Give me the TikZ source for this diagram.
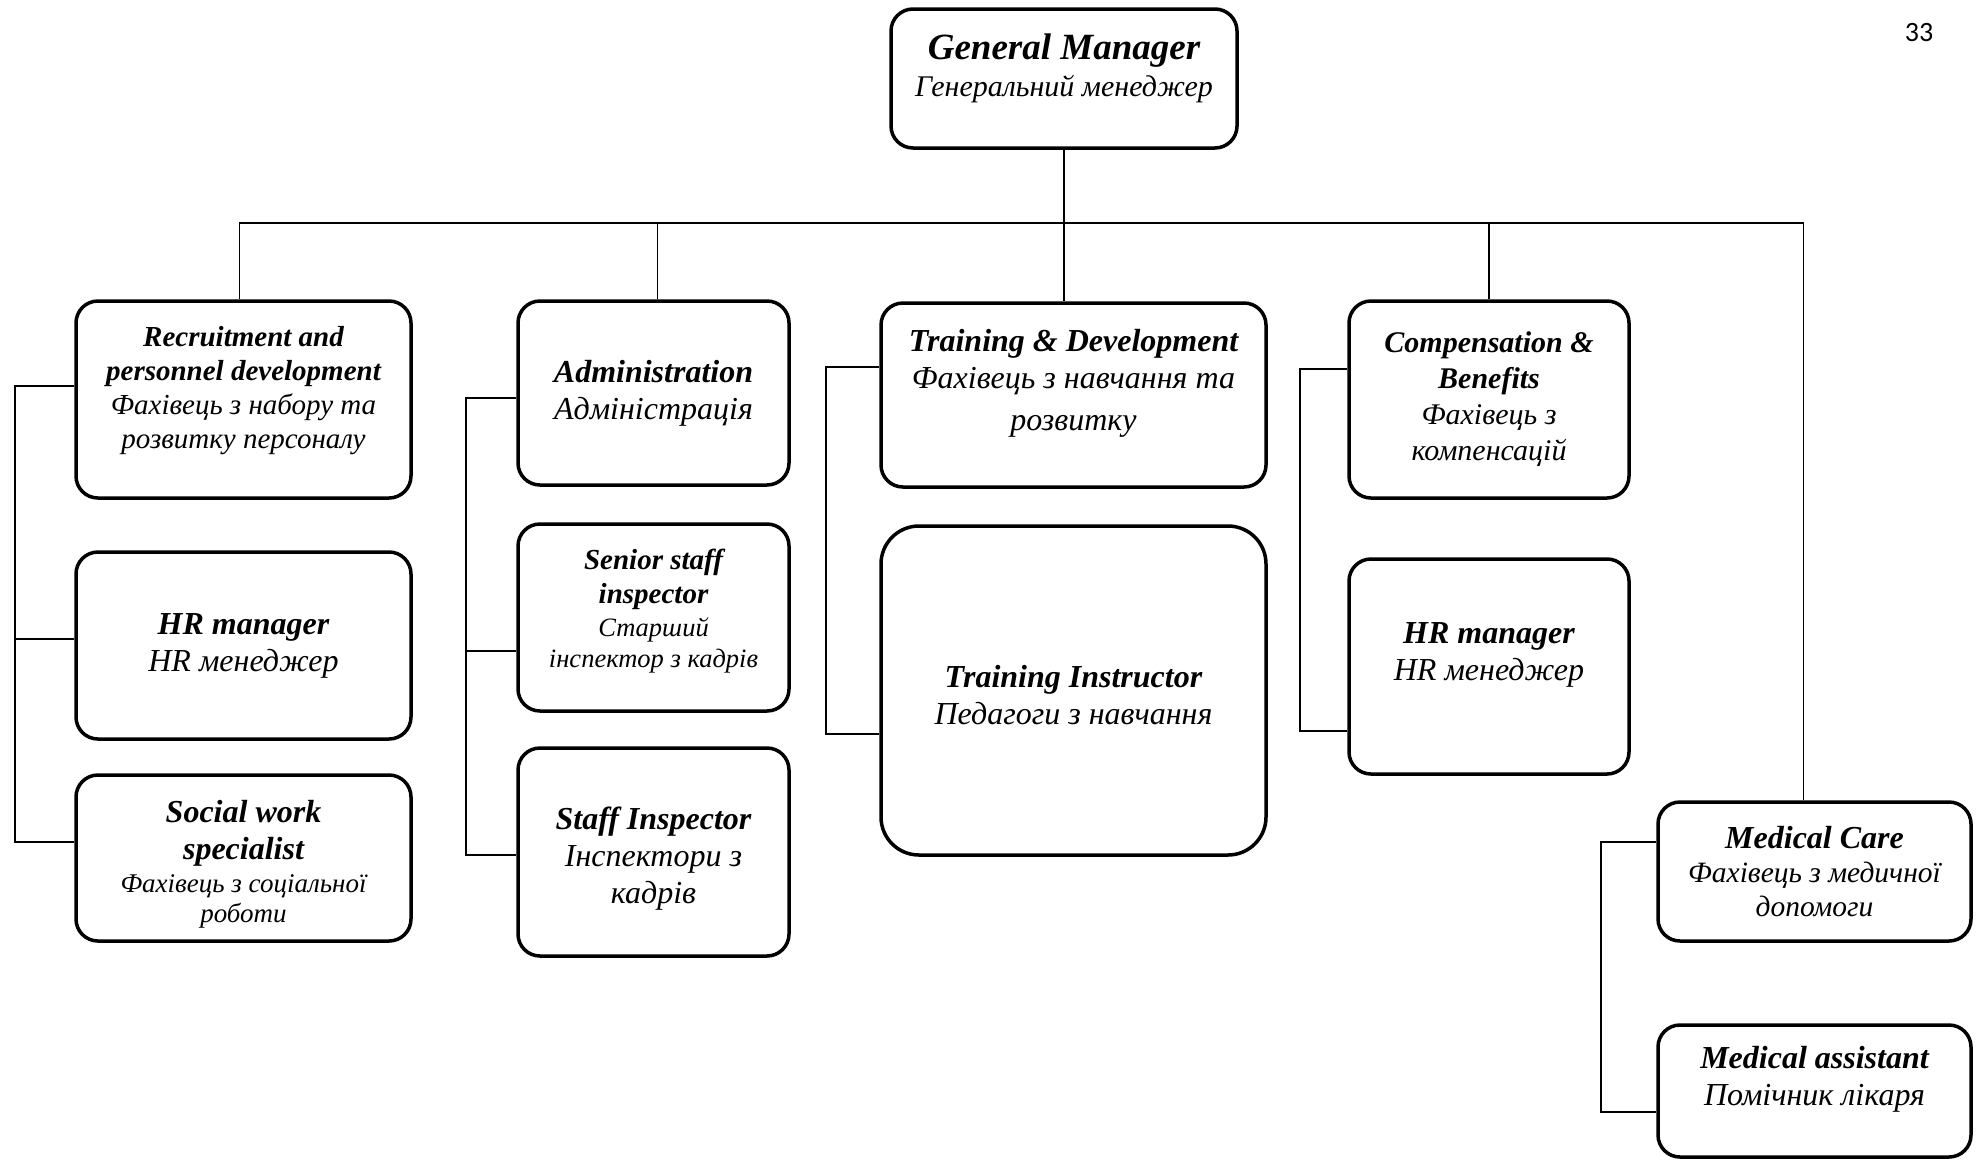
\documentclass[tikz,border=0pt]{standalone}
\usepackage{fontspec}
\setmainfont{Liberation Serif}
\newfontfamily\pgfont{Carlito}
\usetikzlibrary{calc}
\newcommand{\liftup}[1]{\rule[-#1]{0pt}{0pt}}
\newcommand{\dropdown}[1]{\rule{0pt}{#1}}

\begin{document}
\begin{tikzpicture}[x=1pt, y=-1pt,
  box/.style={draw, line width=3.5pt, rounded corners=22pt, align=center, inner sep=2pt,
    font=\fontsize{32}{37}\selectfont\itshape},
  sz/.style 2 args={minimum width=#1pt, minimum height=#2pt},
  link/.style={line width=1.7pt}]
\useasboundingbox (0,0) rectangle (1977,1160);

\node (gm) [box, sz={346}{139}, font=\fontsize{37}{37}\selectfont\itshape] at (1064,78.5) {\textbf{General Manager}\\{\fontsize{30}{30}\selectfont Генеральний менеджер}\liftup{26pt}};

\node (rec) [box, sz={335}{197}, font=\fontsize{29}{34}\selectfont\itshape] at (243.5,399.5) {\textbf{Recruitment and}\\\textbf{personnel development}\\Фахівець з набору та\\розвитку персоналу\liftup{24pt}};
\node (hr1) [box, sz={335}{187}] at (243.5,645.5) {\textbf{HR manager}\\HR менеджер};
\node (soc) [box, sz={335}{166}] at (243.5,858) {\dropdown{34pt}\textbf{Social work}\\\textbf{specialist}\\[-4pt]{\fontsize{27}{29}\selectfont Фахівець з соціальної}\\[-7pt]{\fontsize{27}{29}\selectfont роботи}};

\node (adm) [box, sz={271}{184}] at (653.5,393) {\textbf{Administration}\\Адміністрація};
\node (sen) [box, sz={271}{187}, font=\fontsize{29}{34}\selectfont\itshape] at (653.5,617.5) {\textbf{Senior staff}\\\textbf{inspector}\\[-1pt]{\fontsize{26.5}{30}\selectfont Старший}\\[-2.5pt]{\fontsize{26.5}{30}\selectfont інспектор з кадрів}\liftup{18pt}};
\node (sti) [box, sz={271}{208}] at (653.5,852) {\dropdown{36pt}\textbf{Staff Inspector}\\Інспектори з\\кадрів};

\node (td) [box, sz={385}{184}] at (1073.5,395) {\textbf{Training \& Development}\\Фахівець з навчання та\\[5pt]розвитку\liftup{30pt}};
\node (ti) [box, sz={385}{329}, rounded corners=38pt] at (1073.5,690.5) {\dropdown{32pt}\textbf{Training Instructor}\\Педагоги з навчання};

\node (comp) [box, sz={280}{197}, font=\fontsize{30}{36}\selectfont\itshape] at (1489,399.5) {\textbf{Compensation \&}\\\textbf{Benefits}\\Фахівець з\\компенсацій};
\node (hr2) [box, sz={280}{215}] at (1489,666.5) {\textbf{HR manager}\\HR менеджер\liftup{30pt}};

\node (mc) [box, sz={313}{139}] at (1814.5,871.5) {\textbf{Medical Care}\\[-3pt]{\fontsize{29.5}{31}\selectfont Фахівець з медичної}\\[-3pt]{\fontsize{29.5}{31}\selectfont допомоги}};
\node (ma) [box, sz={313}{132}] at (1814.5,1091) {\textbf{Medical assistant}\\Помічник лікаря\liftup{30pt}};

\node (pg) at (1919,33) {\pgfont\fontsize{28}{28}\selectfont 33};

\coordinate (bus) at (0,223);
\coordinate (s1) at (15,0);
\coordinate (s2) at (466,0);
\coordinate (s3) at (826,0);
\coordinate (s4) at (1300,0);
\coordinate (s5) at (1601,0);

\draw[link] (gm.south) -- (gm.south |- td.north);
\draw[link] ($(rec.north)+(-4,0)$) -- ($(rec.north |- bus)+(-4,0)$) -- ($(mc.north |- bus)+(-11,0)$) -- ($(mc.north)+(-11,0)$);
\draw[link] ($(adm.north)+(4,0)$) -- ($(adm.north |- bus)+(4,0)$);
\draw[link] (comp.north) -- (comp.north |- bus);

\draw[link] ($(rec.west)+(0,-13.5)$) coordinate (a1) -- (a1 -| s1) |- ($(soc.west)+(0,-16)$);
\draw[link] ($(hr1.west)+(0,-6.5)$) coordinate (a2) -- (a2 -| s1);
\draw[link] ($(adm.west)+(0,5)$) coordinate (b1) -- (b1 -| s2) |- ($(sti.west)+(0,3)$);
\draw[link] ($(sen.west)+(0,33.5)$) coordinate (b2) -- (b2 -| s2);
\draw[link] ($(td.west)+(0,-28)$) coordinate (c1) -- (c1 -| s3) |- ($(ti.west)+(0,43.5)$);
\draw[link] ($(comp.west)+(0,-30.5)$) coordinate (d1) -- (d1 -| s4) |- ($(hr2.west)+(0,64.5)$);
\draw[link] ($(mc.west)+(0,-29.5)$) coordinate (e1) -- (e1 -| s5) |- ($(ma.west)+(0,21)$);
\end{tikzpicture}
\end{document}
